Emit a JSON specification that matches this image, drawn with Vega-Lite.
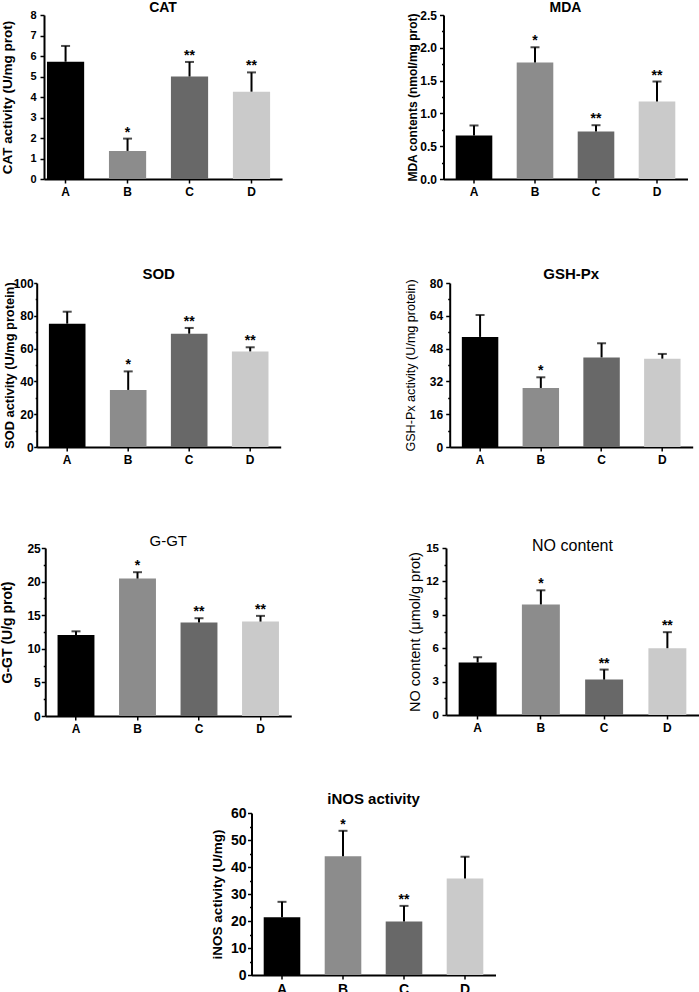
{
  "$schema": "https://vega.github.io/schema/vega-lite/v6.json",
  "background": "white",
  "padding": {"top": 1, "left": 0, "right": 0, "bottom": 0},
  "config": {
    "font": "Liberation Sans",
    "view": {"stroke": null},
    "axis": {"domain": true, "ticks": true, "domainColor": "#000000", "domainWidth": 2, "tickColor": "#000000", "tickWidth": 1.5, "tickSize": 4, "labelColor": "#000000", "labelFontWeight": "bold", "titleColor": "#000000", "grid": false, "labelOverlap": false, "labelFlush": false},
    "axisX": {"labelAngle": 0, "labelPadding": 3, "labelFontSize": 12},
    "tick": {"color": "#000", "thickness": 2, "size": 9},
    "rule": {"color": "#000", "strokeWidth": 2},
    "text": {"color": "#000", "fontSize": 14, "fontWeight": "bold", "baseline": "alphabetic", "dy": -2}
  },
  "datasets": {
    "d": [
      {"panel": "CAT", "group": "A", "mean": 5.72, "upper": 6.49, "sig": ""},
      {"panel": "CAT", "group": "B", "mean": 1.37, "upper": 1.97, "sig": "*"},
      {"panel": "CAT", "group": "C", "mean": 5.0, "upper": 5.71, "sig": "**"},
      {"panel": "CAT", "group": "D", "mean": 4.26, "upper": 5.2, "sig": "**"},
      {"panel": "MDA", "group": "A", "mean": 0.664, "upper": 0.816, "sig": ""},
      {"panel": "MDA", "group": "B", "mean": 1.775, "upper": 2.008, "sig": "*"},
      {"panel": "MDA", "group": "C", "mean": 0.725, "upper": 0.82, "sig": "**"},
      {"panel": "MDA", "group": "D", "mean": 1.18, "upper": 1.486, "sig": "**"},
      {"panel": "SOD", "group": "A", "mean": 75.2, "upper": 82.5, "sig": ""},
      {"panel": "SOD", "group": "B", "mean": 34.8, "upper": 46.1, "sig": "*"},
      {"panel": "SOD", "group": "C", "mean": 69.1, "upper": 72.6, "sig": "**"},
      {"panel": "SOD", "group": "D", "mean": 58.3, "upper": 60.8, "sig": "**"},
      {"panel": "GSH", "group": "A", "mean": 53.7, "upper": 64.4, "sig": ""},
      {"panel": "GSH", "group": "B", "mean": 28.8, "upper": 34.0, "sig": "*"},
      {"panel": "GSH", "group": "C", "mean": 43.7, "upper": 50.6, "sig": ""},
      {"panel": "GSH", "group": "D", "mean": 43.1, "upper": 45.4, "sig": ""},
      {"panel": "GGT", "group": "A", "mean": 12.05, "upper": 12.6, "sig": ""},
      {"panel": "GGT", "group": "B", "mean": 20.45, "upper": 21.4, "sig": "*"},
      {"panel": "GGT", "group": "C", "mean": 13.9, "upper": 14.55, "sig": "**"},
      {"panel": "GGT", "group": "D", "mean": 14.05, "upper": 14.9, "sig": "**"},
      {"panel": "NO", "group": "A", "mean": 4.71, "upper": 5.19, "sig": ""},
      {"panel": "NO", "group": "B", "mean": 9.93, "upper": 11.2, "sig": "*"},
      {"panel": "NO", "group": "C", "mean": 3.18, "upper": 4.08, "sig": "**"},
      {"panel": "NO", "group": "D", "mean": 6.0, "upper": 7.44, "sig": "**"},
      {"panel": "iNOS", "group": "A", "mean": 21.4, "upper": 27.1, "sig": ""},
      {"panel": "iNOS", "group": "B", "mean": 44.0, "upper": 53.4, "sig": "*"},
      {"panel": "iNOS", "group": "C", "mean": 19.8, "upper": 25.6, "sig": "**"},
      {"panel": "iNOS", "group": "D", "mean": 35.7, "upper": 43.8, "sig": ""}
    ]
  },
  "vconcat": [
    {
      "vconcat": [
        {
          "vconcat": [
            {
              "hconcat": [
                {"width": 1, "height": 1, "view": {"fill": "#ffffff", "stroke": null}, "data": {"values": [{"k": 1}]}, "mark": {"type": "point", "opacity": 0, "size": 1}, "encoding": {}},
                {
                  "hconcat": [
                    {
                      "width": 238, "height": 164,
                      "title": {"text": "CAT", "offset": -17.2, "frame": "group", "baseline": "alphabetic", "fontSize": 14, "fontWeight": "bold", "color": "#000"},
                      "data": {"name": "d"},
                      "transform": [{"filter": "datum.panel === 'CAT'"}],
                      "encoding": {"x": {"field": "group", "type": "nominal", "title": null, "scale": {"paddingInner": 0.4, "paddingOuter": 0.12, "align": 0.2}}},
                      "layer": [
                        {"mark": "bar", "encoding": {
                          "y": {"field": "mean", "type": "quantitative", "scale": {"domain": [0, 8], "nice": false}, "axis": {"title": "CAT activity (U/mg prot)", "titleFontSize": 13.5, "titleFontWeight": "bold", "titleBaseline": "alphabetic", "titlePadding": 0, "minExtent": 32.3, "maxExtent": 32.3, "values": [0, 1, 2, 3, 4, 5, 6, 7, 8], "labelOverlap": false, "labelFontSize": 11, "labelPadding": 4}},
                          "color": {"field": "group", "type": "nominal", "scale": {"domain": ["A", "B", "C", "D"], "range": ["#000000", "#8c8c8c", "#686868", "#cacaca"]}, "legend": null}}},
                        {"mark": "rule", "encoding": {
                          "y": {"field": "mean", "type": "quantitative", "scale": {"domain": [0, 8], "nice": false}, "axis": {"title": "CAT activity (U/mg prot)", "titleFontSize": 13.5, "titleFontWeight": "bold", "titleBaseline": "alphabetic", "titlePadding": 0, "minExtent": 32.3, "maxExtent": 32.3, "values": [0, 1, 2, 3, 4, 5, 6, 7, 8], "labelOverlap": false, "labelFontSize": 11, "labelPadding": 4}},
                          "y2": {"field": "upper"}}},
                        {"mark": "tick", "encoding": {
                          "y": {"field": "upper", "type": "quantitative", "scale": {"domain": [0, 8], "nice": false}, "axis": {"title": "CAT activity (U/mg prot)", "titleFontSize": 13.5, "titleFontWeight": "bold", "titleBaseline": "alphabetic", "titlePadding": 0, "minExtent": 32.3, "maxExtent": 32.3, "values": [0, 1, 2, 3, 4, 5, 6, 7, 8], "labelOverlap": false, "labelFontSize": 11, "labelPadding": 4}}}},
                        {"mark": "text", "encoding": {
                          "y": {"field": "upper", "type": "quantitative", "scale": {"domain": [0, 8], "nice": false}, "axis": {"title": "CAT activity (U/mg prot)", "titleFontSize": 13.5, "titleFontWeight": "bold", "titleBaseline": "alphabetic", "titlePadding": 0, "minExtent": 32.3, "maxExtent": 32.3, "values": [0, 1, 2, 3, 4, 5, 6, 7, 8], "labelOverlap": false, "labelFontSize": 11, "labelPadding": 4}},
                          "text": {"field": "sig"}}}
                      ]
                    },
                    {
                      "width": 244, "height": 164,
                      "title": {"text": "MDA", "offset": -17.2, "frame": "group", "baseline": "alphabetic", "fontSize": 14, "fontWeight": "bold", "color": "#000"},
                      "data": {"name": "d"},
                      "transform": [{"filter": "datum.panel === 'MDA'"}],
                      "encoding": {"x": {"field": "group", "type": "nominal", "title": null, "scale": {"paddingInner": 0.4, "paddingOuter": 0.2}}},
                      "layer": [
                        {"mark": "bar", "encoding": {
                          "y": {"field": "mean", "type": "quantitative", "scale": {"domain": [0, 2.5], "nice": false}, "axis": {"title": "MDA contents (nmol/mg prot)", "titleFontSize": 12, "titleFontWeight": "bold", "titleBaseline": "alphabetic", "titlePadding": 0, "minExtent": 26.8, "maxExtent": 26.8, "values": [0, 0.25, 0.5, 0.75, 1, 1.25, 1.5, 1.75, 2, 2.25, 2.5], "format": ".1f", "labelExpr": "datum.value % 0.5 === 0 ? datum.label : ''", "tickSize": {"condition": {"test": "datum.value % 0.5 !== 0", "value": 2}, "value": 4}, "labelOverlap": false, "labelFontSize": 12, "labelPadding": 3}},
                          "color": {"field": "group", "type": "nominal", "scale": {"domain": ["A", "B", "C", "D"], "range": ["#000000", "#8c8c8c", "#686868", "#cacaca"]}, "legend": null}}},
                        {"mark": "rule", "encoding": {
                          "y": {"field": "mean", "type": "quantitative", "scale": {"domain": [0, 2.5], "nice": false}, "axis": {"title": "MDA contents (nmol/mg prot)", "titleFontSize": 12, "titleFontWeight": "bold", "titleBaseline": "alphabetic", "titlePadding": 0, "minExtent": 26.8, "maxExtent": 26.8, "values": [0, 0.25, 0.5, 0.75, 1, 1.25, 1.5, 1.75, 2, 2.25, 2.5], "format": ".1f", "labelExpr": "datum.value % 0.5 === 0 ? datum.label : ''", "tickSize": {"condition": {"test": "datum.value % 0.5 !== 0", "value": 2}, "value": 4}, "labelOverlap": false, "labelFontSize": 12, "labelPadding": 3}},
                          "y2": {"field": "upper"}}},
                        {"mark": "tick", "encoding": {
                          "y": {"field": "upper", "type": "quantitative", "scale": {"domain": [0, 2.5], "nice": false}, "axis": {"title": "MDA contents (nmol/mg prot)", "titleFontSize": 12, "titleFontWeight": "bold", "titleBaseline": "alphabetic", "titlePadding": 0, "minExtent": 26.8, "maxExtent": 26.8, "values": [0, 0.25, 0.5, 0.75, 1, 1.25, 1.5, 1.75, 2, 2.25, 2.5], "format": ".1f", "labelExpr": "datum.value % 0.5 === 0 ? datum.label : ''", "tickSize": {"condition": {"test": "datum.value % 0.5 !== 0", "value": 2}, "value": 4}, "labelOverlap": false, "labelFontSize": 12, "labelPadding": 3}}}},
                        {"mark": "text", "encoding": {
                          "y": {"field": "upper", "type": "quantitative", "scale": {"domain": [0, 2.5], "nice": false}, "axis": {"title": "MDA contents (nmol/mg prot)", "titleFontSize": 12, "titleFontWeight": "bold", "titleBaseline": "alphabetic", "titlePadding": 0, "minExtent": 26.8, "maxExtent": 26.8, "values": [0, 0.25, 0.5, 0.75, 1, 1.25, 1.5, 1.75, 2, 2.25, 2.5], "format": ".1f", "labelExpr": "datum.value % 0.5 === 0 ? datum.label : ''", "tickSize": {"condition": {"test": "datum.value % 0.5 !== 0", "value": 2}, "value": 4}, "labelOverlap": false, "labelFontSize": 12, "labelPadding": 3}},
                          "text": {"field": "sig"}}}
                      ]
                    }
                  ],
                  "spacing": 124.5
                }
              ],
              "spacing": -10
            },
            {
              "hconcat": [
                {"width": 1, "height": 1, "view": {"fill": "#ffffff", "stroke": null}, "data": {"values": [{"k": 1}]}, "mark": {"type": "point", "opacity": 0, "size": 1}, "encoding": {}},
                {
                  "hconcat": [
                    {
                      "width": 244, "height": 164,
                      "title": {"text": "SOD", "offset": -17.2, "frame": "group", "baseline": "alphabetic", "fontSize": 15, "fontWeight": "bold", "color": "#000"},
                      "data": {"name": "d"},
                      "transform": [{"filter": "datum.panel === 'SOD'"}],
                      "encoding": {"x": {"field": "group", "type": "nominal", "title": null, "scale": {"paddingInner": 0.4, "paddingOuter": 0.2}}},
                      "layer": [
                        {"mark": "bar", "encoding": {
                          "y": {"field": "mean", "type": "quantitative", "scale": {"domain": [0, 100], "nice": false}, "axis": {"title": "SOD activity (U/mg protein)", "titleFontSize": 12.8, "titleFontWeight": "bold", "titleBaseline": "alphabetic", "titlePadding": 0, "minExtent": 23.3, "maxExtent": 23.3, "values": [0, 10, 20, 30, 40, 50, 60, 70, 80, 90, 100], "labelExpr": "datum.value % 20 === 0 ? datum.label : ''", "tickSize": {"condition": {"test": "datum.value % 20 !== 0", "value": 1.5}, "value": 3}, "labelOverlap": false, "labelFontSize": 12, "labelPadding": 0.5}},
                          "color": {"field": "group", "type": "nominal", "scale": {"domain": ["A", "B", "C", "D"], "range": ["#000000", "#8c8c8c", "#686868", "#cacaca"]}, "legend": null}}},
                        {"mark": "rule", "encoding": {
                          "y": {"field": "mean", "type": "quantitative", "scale": {"domain": [0, 100], "nice": false}, "axis": {"title": "SOD activity (U/mg protein)", "titleFontSize": 12.8, "titleFontWeight": "bold", "titleBaseline": "alphabetic", "titlePadding": 0, "minExtent": 23.3, "maxExtent": 23.3, "values": [0, 10, 20, 30, 40, 50, 60, 70, 80, 90, 100], "labelExpr": "datum.value % 20 === 0 ? datum.label : ''", "tickSize": {"condition": {"test": "datum.value % 20 !== 0", "value": 1.5}, "value": 3}, "labelOverlap": false, "labelFontSize": 12, "labelPadding": 0.5}},
                          "y2": {"field": "upper"}}},
                        {"mark": "tick", "encoding": {
                          "y": {"field": "upper", "type": "quantitative", "scale": {"domain": [0, 100], "nice": false}, "axis": {"title": "SOD activity (U/mg protein)", "titleFontSize": 12.8, "titleFontWeight": "bold", "titleBaseline": "alphabetic", "titlePadding": 0, "minExtent": 23.3, "maxExtent": 23.3, "values": [0, 10, 20, 30, 40, 50, 60, 70, 80, 90, 100], "labelExpr": "datum.value % 20 === 0 ? datum.label : ''", "tickSize": {"condition": {"test": "datum.value % 20 !== 0", "value": 1.5}, "value": 3}, "labelOverlap": false, "labelFontSize": 12, "labelPadding": 0.5}}}},
                        {"mark": "text", "encoding": {
                          "y": {"field": "upper", "type": "quantitative", "scale": {"domain": [0, 100], "nice": false}, "axis": {"title": "SOD activity (U/mg protein)", "titleFontSize": 12.8, "titleFontWeight": "bold", "titleBaseline": "alphabetic", "titlePadding": 0, "minExtent": 23.3, "maxExtent": 23.3, "values": [0, 10, 20, 30, 40, 50, 60, 70, 80, 90, 100], "labelExpr": "datum.value % 20 === 0 ? datum.label : ''", "tickSize": {"condition": {"test": "datum.value % 20 !== 0", "value": 1.5}, "value": 3}, "labelOverlap": false, "labelFontSize": 12, "labelPadding": 0.5}},
                          "text": {"field": "sig"}}}
                      ]
                    },
                    {
                      "width": 243, "height": 164,
                      "title": {"text": "GSH-Px", "offset": -17.2, "frame": "group", "baseline": "alphabetic", "fontSize": 15, "fontWeight": "bold", "color": "#000"},
                      "data": {"name": "d"},
                      "transform": [{"filter": "datum.panel === 'GSH'"}],
                      "encoding": {"x": {"field": "group", "type": "nominal", "title": null, "scale": {"paddingInner": 0.4, "paddingOuter": 0.2}}},
                      "layer": [
                        {"mark": "bar", "encoding": {
                          "y": {"field": "mean", "type": "quantitative", "scale": {"domain": [0, 80], "nice": false}, "axis": {"title": "GSH-Px activity (U/mg protein)", "titleFontSize": 12.6, "titleFontWeight": "normal", "titleBaseline": "alphabetic", "titlePadding": 0, "minExtent": 35.7, "maxExtent": 35.7, "values": [0, 8, 16, 24, 32, 40, 48, 56, 64, 72, 80], "labelExpr": "datum.value % 16 === 0 ? datum.label : ''", "tickSize": {"condition": {"test": "datum.value % 16 !== 0", "value": 2}, "value": 4}, "labelOverlap": false, "labelFontSize": 12, "labelPadding": 3}},
                          "color": {"field": "group", "type": "nominal", "scale": {"domain": ["A", "B", "C", "D"], "range": ["#000000", "#8c8c8c", "#686868", "#cacaca"]}, "legend": null}}},
                        {"mark": "rule", "encoding": {
                          "y": {"field": "mean", "type": "quantitative", "scale": {"domain": [0, 80], "nice": false}, "axis": {"title": "GSH-Px activity (U/mg protein)", "titleFontSize": 12.6, "titleFontWeight": "normal", "titleBaseline": "alphabetic", "titlePadding": 0, "minExtent": 35.7, "maxExtent": 35.7, "values": [0, 8, 16, 24, 32, 40, 48, 56, 64, 72, 80], "labelExpr": "datum.value % 16 === 0 ? datum.label : ''", "tickSize": {"condition": {"test": "datum.value % 16 !== 0", "value": 2}, "value": 4}, "labelOverlap": false, "labelFontSize": 12, "labelPadding": 3}},
                          "y2": {"field": "upper"}}},
                        {"mark": "tick", "encoding": {
                          "y": {"field": "upper", "type": "quantitative", "scale": {"domain": [0, 80], "nice": false}, "axis": {"title": "GSH-Px activity (U/mg protein)", "titleFontSize": 12.6, "titleFontWeight": "normal", "titleBaseline": "alphabetic", "titlePadding": 0, "minExtent": 35.7, "maxExtent": 35.7, "values": [0, 8, 16, 24, 32, 40, 48, 56, 64, 72, 80], "labelExpr": "datum.value % 16 === 0 ? datum.label : ''", "tickSize": {"condition": {"test": "datum.value % 16 !== 0", "value": 2}, "value": 4}, "labelOverlap": false, "labelFontSize": 12, "labelPadding": 3}}}},
                        {"mark": "text", "encoding": {
                          "y": {"field": "upper", "type": "quantitative", "scale": {"domain": [0, 80], "nice": false}, "axis": {"title": "GSH-Px activity (U/mg protein)", "titleFontSize": 12.6, "titleFontWeight": "normal", "titleBaseline": "alphabetic", "titlePadding": 0, "minExtent": 35.7, "maxExtent": 35.7, "values": [0, 8, 16, 24, 32, 40, 48, 56, 64, 72, 80], "labelExpr": "datum.value % 16 === 0 ? datum.label : ''", "tickSize": {"condition": {"test": "datum.value % 16 !== 0", "value": 2}, "value": 4}, "labelOverlap": false, "labelFontSize": 12, "labelPadding": 3}},
                          "text": {"field": "sig"}}}
                      ]
                    }
                  ],
                  "spacing": 123
                }
              ],
              "spacing": -7.3
            }
          ],
          "spacing": 70
        },
        {
          "hconcat": [
            {"width": 1, "height": 1, "view": {"fill": "#ffffff", "stroke": null}, "data": {"values": [{"k": 1}]}, "mark": {"type": "point", "opacity": 0, "size": 1}, "encoding": {}},
            {
              "hconcat": [
                {
                  "width": 246, "height": 168,
                  "title": {"text": "G-GT", "offset": -19, "frame": "group", "baseline": "alphabetic", "fontSize": 15, "fontWeight": "normal", "color": "#000"},
                  "data": {"name": "d"},
                  "transform": [{"filter": "datum.panel === 'GGT'"}],
                  "encoding": {"x": {"field": "group", "type": "nominal", "title": null, "scale": {"paddingInner": 0.4, "paddingOuter": 0.2}}},
                  "layer": [
                    {"mark": "bar", "encoding": {
                      "y": {"field": "mean", "type": "quantitative", "scale": {"domain": [0, 25], "nice": false}, "axis": {"title": "G-GT (U/g prot)", "titleFontSize": 14, "titleFontWeight": "bold", "titleBaseline": "alphabetic", "titlePadding": 0, "minExtent": 33.6, "maxExtent": 33.6, "values": [0, 2.5, 5, 7.5, 10, 12.5, 15, 17.5, 20, 22.5, 25], "labelExpr": "datum.value % 5 === 0 ? datum.label : ''", "tickSize": {"condition": {"test": "datum.value % 5 !== 0", "value": 2}, "value": 4}, "labelOverlap": false, "labelFontSize": 12, "labelPadding": 1}},
                      "color": {"field": "group", "type": "nominal", "scale": {"domain": ["A", "B", "C", "D"], "range": ["#000000", "#8c8c8c", "#686868", "#cacaca"]}, "legend": null}}},
                    {"mark": "rule", "encoding": {
                      "y": {"field": "mean", "type": "quantitative", "scale": {"domain": [0, 25], "nice": false}, "axis": {"title": "G-GT (U/g prot)", "titleFontSize": 14, "titleFontWeight": "bold", "titleBaseline": "alphabetic", "titlePadding": 0, "minExtent": 33.6, "maxExtent": 33.6, "values": [0, 2.5, 5, 7.5, 10, 12.5, 15, 17.5, 20, 22.5, 25], "labelExpr": "datum.value % 5 === 0 ? datum.label : ''", "tickSize": {"condition": {"test": "datum.value % 5 !== 0", "value": 2}, "value": 4}, "labelOverlap": false, "labelFontSize": 12, "labelPadding": 1}},
                      "y2": {"field": "upper"}}},
                    {"mark": "tick", "encoding": {
                      "y": {"field": "upper", "type": "quantitative", "scale": {"domain": [0, 25], "nice": false}, "axis": {"title": "G-GT (U/g prot)", "titleFontSize": 14, "titleFontWeight": "bold", "titleBaseline": "alphabetic", "titlePadding": 0, "minExtent": 33.6, "maxExtent": 33.6, "values": [0, 2.5, 5, 7.5, 10, 12.5, 15, 17.5, 20, 22.5, 25], "labelExpr": "datum.value % 5 === 0 ? datum.label : ''", "tickSize": {"condition": {"test": "datum.value % 5 !== 0", "value": 2}, "value": 4}, "labelOverlap": false, "labelFontSize": 12, "labelPadding": 1}}}},
                    {"mark": "text", "encoding": {
                      "y": {"field": "upper", "type": "quantitative", "scale": {"domain": [0, 25], "nice": false}, "axis": {"title": "G-GT (U/g prot)", "titleFontSize": 14, "titleFontWeight": "bold", "titleBaseline": "alphabetic", "titlePadding": 0, "minExtent": 33.6, "maxExtent": 33.6, "values": [0, 2.5, 5, 7.5, 10, 12.5, 15, 17.5, 20, 22.5, 25], "labelExpr": "datum.value % 5 === 0 ? datum.label : ''", "tickSize": {"condition": {"test": "datum.value % 5 !== 0", "value": 2}, "value": 4}, "labelOverlap": false, "labelFontSize": 12, "labelPadding": 1}},
                      "text": {"field": "sig"}}}
                  ]
                },
                {
                  "width": 253, "height": 167,
                  "title": {"text": "NO content", "offset": -25.4, "frame": "group", "baseline": "alphabetic", "fontSize": 16, "fontWeight": "normal", "color": "#000"},
                  "data": {"name": "d"},
                  "transform": [{"filter": "datum.panel === 'NO'"}],
                  "encoding": {"x": {"field": "group", "type": "nominal", "title": null, "scale": {"paddingInner": 0.4, "paddingOuter": 0.2}}},
                  "layer": [
                    {"mark": "bar", "encoding": {
                      "y": {"field": "mean", "type": "quantitative", "scale": {"domain": [0, 15], "nice": false}, "axis": {"title": "NO content (μmol/g prot)", "titleFontSize": 14.5, "titleFontWeight": "normal", "titleBaseline": "alphabetic", "titlePadding": 0, "minExtent": 26.3, "maxExtent": 26.3, "values": [0, 1.5, 3, 4.5, 6, 7.5, 9, 10.5, 12, 13.5, 15], "labelExpr": "datum.value % 3 === 0 ? datum.label : ''", "tickSize": {"condition": {"test": "datum.value % 3 !== 0", "value": 2}, "value": 4}, "labelOverlap": false, "labelFontSize": 11.5, "labelPadding": 3.5}},
                      "color": {"field": "group", "type": "nominal", "scale": {"domain": ["A", "B", "C", "D"], "range": ["#000000", "#8c8c8c", "#686868", "#cacaca"]}, "legend": null}}},
                    {"mark": "rule", "encoding": {
                      "y": {"field": "mean", "type": "quantitative", "scale": {"domain": [0, 15], "nice": false}, "axis": {"title": "NO content (μmol/g prot)", "titleFontSize": 14.5, "titleFontWeight": "normal", "titleBaseline": "alphabetic", "titlePadding": 0, "minExtent": 26.3, "maxExtent": 26.3, "values": [0, 1.5, 3, 4.5, 6, 7.5, 9, 10.5, 12, 13.5, 15], "labelExpr": "datum.value % 3 === 0 ? datum.label : ''", "tickSize": {"condition": {"test": "datum.value % 3 !== 0", "value": 2}, "value": 4}, "labelOverlap": false, "labelFontSize": 11.5, "labelPadding": 3.5}},
                      "y2": {"field": "upper"}}},
                    {"mark": "tick", "encoding": {
                      "y": {"field": "upper", "type": "quantitative", "scale": {"domain": [0, 15], "nice": false}, "axis": {"title": "NO content (μmol/g prot)", "titleFontSize": 14.5, "titleFontWeight": "normal", "titleBaseline": "alphabetic", "titlePadding": 0, "minExtent": 26.3, "maxExtent": 26.3, "values": [0, 1.5, 3, 4.5, 6, 7.5, 9, 10.5, 12, 13.5, 15], "labelExpr": "datum.value % 3 === 0 ? datum.label : ''", "tickSize": {"condition": {"test": "datum.value % 3 !== 0", "value": 2}, "value": 4}, "labelOverlap": false, "labelFontSize": 11.5, "labelPadding": 3.5}}}},
                    {"mark": "text", "encoding": {
                      "y": {"field": "upper", "type": "quantitative", "scale": {"domain": [0, 15], "nice": false}, "axis": {"title": "NO content (μmol/g prot)", "titleFontSize": 14.5, "titleFontWeight": "normal", "titleBaseline": "alphabetic", "titlePadding": 0, "minExtent": 26.3, "maxExtent": 26.3, "values": [0, 1.5, 3, 4.5, 6, 7.5, 9, 10.5, 12, 13.5, 15], "labelExpr": "datum.value % 3 === 0 ? datum.label : ''", "tickSize": {"condition": {"test": "datum.value % 3 !== 0", "value": 2}, "value": 4}, "labelOverlap": false, "labelFontSize": 11.5, "labelPadding": 3.5}},
                      "text": {"field": "sig"}}}
                  ]
                }
              ],
              "spacing": 115.75
            }
          ],
          "spacing": -9.75
        }
      ],
      "spacing": 69
    },
    {
      "hconcat": [
        {"width": 1, "height": 1, "view": {"fill": "#ffffff", "stroke": null}, "data": {"values": [{"k": 1}]}, "mark": {"type": "point", "opacity": 0, "size": 1}, "encoding": {}},
        {
          "width": 244, "height": 162,
          "title": {"text": "iNOS activity", "offset": -13, "frame": "group", "baseline": "alphabetic", "fontSize": 15, "fontWeight": "bold", "color": "#000"},
          "data": {"name": "d"},
          "transform": [{"filter": "datum.panel === 'iNOS'"}],
          "encoding": {"x": {"field": "group", "type": "nominal", "title": null, "scale": {"paddingInner": 0.4, "paddingOuter": 0.2}, "axis": {"labelFontSize": 14}}},
          "layer": [
            {"mark": "bar", "encoding": {
              "y": {"field": "mean", "type": "quantitative", "scale": {"domain": [0, 60], "nice": false}, "axis": {"title": "iNOS activity (U/mg)", "titleFontSize": 13.5, "titleFontWeight": "bold", "titleBaseline": "alphabetic", "titlePadding": 0, "minExtent": 30.3, "maxExtent": 30.3, "values": [0, 5, 10, 15, 20, 25, 30, 35, 40, 45, 50, 55, 60], "labelExpr": "datum.value % 10 === 0 ? datum.label : ''", "tickSize": {"condition": {"test": "datum.value % 10 !== 0", "value": 2}, "value": 4}, "labelOverlap": false, "labelFontSize": 14, "labelPadding": 1.5}},
              "color": {"field": "group", "type": "nominal", "scale": {"domain": ["A", "B", "C", "D"], "range": ["#000000", "#8c8c8c", "#686868", "#cacaca"]}, "legend": null}}},
            {"mark": "rule", "encoding": {
              "y": {"field": "mean", "type": "quantitative", "scale": {"domain": [0, 60], "nice": false}, "axis": {"title": "iNOS activity (U/mg)", "titleFontSize": 13.5, "titleFontWeight": "bold", "titleBaseline": "alphabetic", "titlePadding": 0, "minExtent": 30.3, "maxExtent": 30.3, "values": [0, 5, 10, 15, 20, 25, 30, 35, 40, 45, 50, 55, 60], "labelExpr": "datum.value % 10 === 0 ? datum.label : ''", "tickSize": {"condition": {"test": "datum.value % 10 !== 0", "value": 2}, "value": 4}, "labelOverlap": false, "labelFontSize": 14, "labelPadding": 1.5}},
              "y2": {"field": "upper"}}},
            {"mark": "tick", "encoding": {
              "y": {"field": "upper", "type": "quantitative", "scale": {"domain": [0, 60], "nice": false}, "axis": {"title": "iNOS activity (U/mg)", "titleFontSize": 13.5, "titleFontWeight": "bold", "titleBaseline": "alphabetic", "titlePadding": 0, "minExtent": 30.3, "maxExtent": 30.3, "values": [0, 5, 10, 15, 20, 25, 30, 35, 40, 45, 50, 55, 60], "labelExpr": "datum.value % 10 === 0 ? datum.label : ''", "tickSize": {"condition": {"test": "datum.value % 10 !== 0", "value": 2}, "value": 4}, "labelOverlap": false, "labelFontSize": 14, "labelPadding": 1.5}}}},
            {"mark": "text", "encoding": {
              "y": {"field": "upper", "type": "quantitative", "scale": {"domain": [0, 60], "nice": false}, "axis": {"title": "iNOS activity (U/mg)", "titleFontSize": 13.5, "titleFontWeight": "bold", "titleBaseline": "alphabetic", "titlePadding": 0, "minExtent": 30.3, "maxExtent": 30.3, "values": [0, 5, 10, 15, 20, 25, 30, 35, 40, 45, 50, 55, 60], "labelExpr": "datum.value % 10 === 0 ? datum.label : ''", "tickSize": {"condition": {"test": "datum.value % 10 !== 0", "value": 2}, "value": 4}, "labelOverlap": false, "labelFontSize": 14, "labelPadding": 1.5}},
              "text": {"field": "sig"}}}
          ]
        }
      ],
      "spacing": 199.5
    }
  ],
  "spacing": 58
}
